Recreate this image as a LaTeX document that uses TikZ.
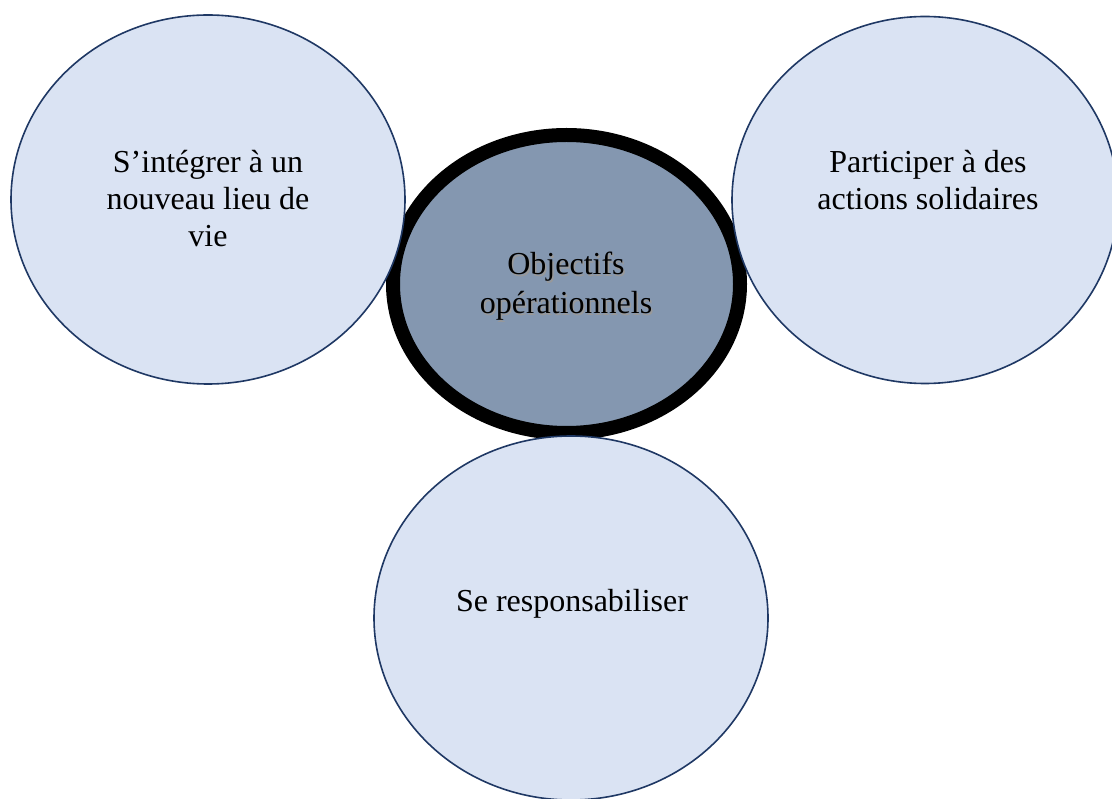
\documentclass[tikz,border=0pt]{standalone}
\usepackage{fontspec}
\setmainfont{Liberation Serif}
\usetikzlibrary{shapes.geometric}
\definecolor{lightfill}{HTML}{DAE3F3}
\definecolor{darkline}{HTML}{1F3864}
\definecolor{midfill}{HTML}{8497B0}
\tikzset{
  sidecircle/.style={ellipse, draw=darkline, fill=lightfill, line width=1.6pt, inner sep=0pt},
  maincircle/.style={ellipse, draw=black, fill=midfill, line width=14pt, inner sep=0pt},
  lbl/.style={font=\fontsize{32}{37}\selectfont, align=center, inner sep=0pt, anchor=base},
}
\begin{document}
\begin{tikzpicture}[x=1pt,y=-1pt]
\useasboundingbox (0,0) rectangle (1112,799);
\clip (0,0) rectangle (1112,799);
\node[maincircle, minimum width=347pt, minimum height=298pt] (main) at (566.5,284) {};
\node[sidecircle, minimum width=394pt, minimum height=369pt] (left) at (208,199.5) {};
\node[sidecircle, minimum width=386pt, minimum height=367pt] (right) at (925,200) {};
\node[sidecircle, minimum width=394pt, minimum height=364pt] (bottom) at (571,618) {};
\node[lbl] (lefttext) at (208,247) {S’intégrer à un\\nouveau lieu de\\vie};
\node[lbl] (righttext) at (928,210) {Participer à des\\actions solidaires};
\node[lbl, text=black!40, font=\fontsize{32}{39}\selectfont] (mainshadow) at (567.5,315.5) {Objectifs\\opérationnels};
\node[lbl, font=\fontsize{32}{39}\selectfont] (maintext) at (566,314) {Objectifs\\opérationnels};
\node[lbl] (bottomtext) at (572,612) {Se responsabiliser};
\end{tikzpicture}
\end{document}
